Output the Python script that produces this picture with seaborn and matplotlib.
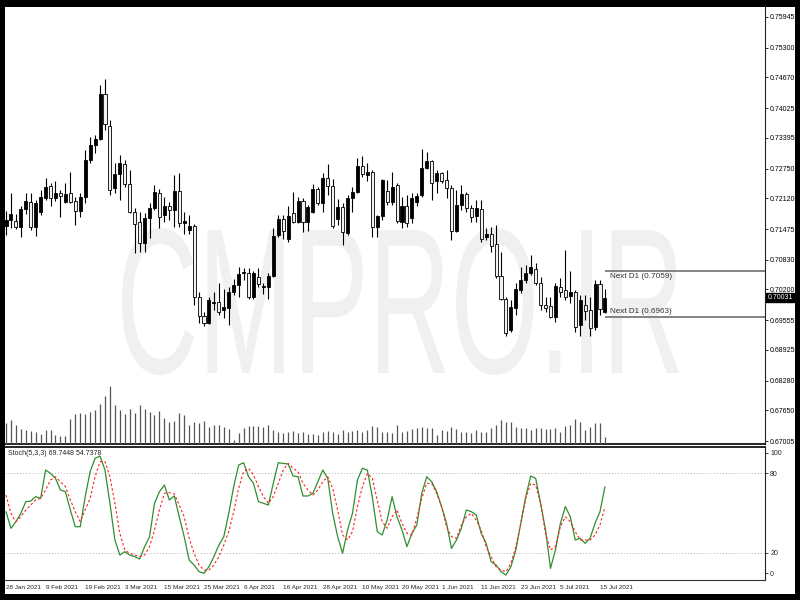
import numpy as np
import matplotlib
matplotlib.use("Agg")
import matplotlib.pyplot as plt
import seaborn as sns
from matplotlib.patches import Rectangle, PathPatch
from matplotlib.textpath import TextPath
from matplotlib.font_manager import FontProperties
from matplotlib.transforms import Affine2D, IdentityTransform

# daily candles, 28 Jan 2021 .. 16 Jul 2021
opens = [0.7154, 0.7166, 0.7164, 0.7152, 0.7189, 0.7205, 0.7152, 0.7184, 0.7212, 0.7238,
         0.7212, 0.7223, 0.7205, 0.7224, 0.7206, 0.7185, 0.7216, 0.7294, 0.7325, 0.7337,
         0.7432, 0.7365, 0.7235, 0.7263, 0.7285, 0.7242, 0.7184, 0.7163, 0.7117, 0.7170,
         0.7191, 0.7223, 0.7177, 0.7196, 0.7188, 0.7228, 0.7161, 0.7145, 0.7154, 0.7005,
         0.6965, 0.6949, 0.6991, 0.6994, 0.6977, 0.6980, 0.7015, 0.7029, 0.7054, 0.7055,
         0.7005, 0.7047, 0.7026, 0.7026, 0.7048, 0.7135, 0.7168, 0.7126, 0.7182, 0.7162,
         0.7207, 0.7162, 0.7183, 0.7232, 0.7203, 0.7256, 0.7239, 0.7169, 0.7193, 0.7140,
         0.7212, 0.7226, 0.7281, 0.7261, 0.7267, 0.7151, 0.7175, 0.7228, 0.7204, 0.7240,
         0.7163, 0.7195, 0.7170, 0.7204, 0.7219, 0.7277, 0.7291, 0.7249, 0.7265, 0.7251,
         0.7235, 0.7144, 0.7198, 0.7221, 0.7191, 0.7175, 0.7189, 0.7131, 0.7138, 0.7116,
         0.7048, 0.7000, 0.6935, 0.6982, 0.7019, 0.7040, 0.7054, 0.7063, 0.7033, 0.6987,
         0.6985, 0.6961, 0.7025, 0.7019, 0.7007, 0.7015, 0.6945, 0.6987, 0.6977, 0.6940,
         0.7031, 0.6973]
highs = [0.7185, 0.7223, 0.7180, 0.7195, 0.7224, 0.7223, 0.7209, 0.7230, 0.7254, 0.7244,
         0.7249, 0.7230, 0.7245, 0.7267, 0.7216, 0.7224, 0.7314, 0.7342, 0.7346, 0.7451,
         0.7463, 0.7377, 0.7286, 0.7303, 0.7293, 0.7272, 0.7191, 0.7184, 0.7181, 0.7202,
         0.7240, 0.7231, 0.7216, 0.7205, 0.7261, 0.7265, 0.7184, 0.7177, 0.7159, 0.7015,
         0.6973, 0.7005, 0.7015, 0.7033, 0.7022, 0.7026, 0.7043, 0.7067, 0.7066, 0.7066,
         0.7058, 0.7065, 0.7033, 0.7055, 0.7149, 0.7177, 0.7177, 0.7196, 0.7226, 0.7216,
         0.7212, 0.7198, 0.7242, 0.7237, 0.7265, 0.7285, 0.7252, 0.7210, 0.7202, 0.7219,
         0.7237, 0.7297, 0.7302, 0.7287, 0.7272, 0.7177, 0.7252, 0.7251, 0.7268, 0.7244,
         0.7216, 0.7219, 0.7223, 0.7223, 0.7316, 0.7309, 0.7294, 0.7272, 0.7268, 0.7271,
         0.7240, 0.7230, 0.7240, 0.7226, 0.7198, 0.7209, 0.7209, 0.7149, 0.7151, 0.7156,
         0.7100, 0.7005, 0.6998, 0.7033, 0.7068, 0.7072, 0.7093, 0.7075, 0.7047, 0.7005,
         0.7005, 0.7033, 0.7044, 0.7103, 0.7058, 0.7019, 0.7008, 0.7008, 0.7005, 0.7040,
         0.7041, 0.7022]
lows = [0.7135, 0.7149, 0.7147, 0.7131, 0.7180, 0.7145, 0.7133, 0.7177, 0.7209, 0.7196,
        0.7206, 0.7173, 0.7202, 0.7202, 0.7156, 0.7173, 0.7202, 0.7286, 0.7307, 0.7335,
        0.7356, 0.7219, 0.7223, 0.7209, 0.7237, 0.7181, 0.7096, 0.7100, 0.7100, 0.7128,
        0.7188, 0.7149, 0.7163, 0.7166, 0.7152, 0.7152, 0.7138, 0.7137, 0.6987, 0.6949,
        0.6942, 0.6947, 0.6977, 0.6966, 0.6959, 0.6945, 0.7008, 0.7005, 0.7040, 0.6999,
        0.6999, 0.7026, 0.7010, 0.6999, 0.7046, 0.7131, 0.7126, 0.7121, 0.7160, 0.7160,
        0.7142, 0.7144, 0.7181, 0.7198, 0.7184, 0.7219, 0.7149, 0.7156, 0.7114, 0.7135,
        0.7184, 0.7223, 0.7258, 0.7249, 0.7131, 0.7131, 0.7166, 0.7198, 0.7198, 0.7160,
        0.7149, 0.7152, 0.7160, 0.7195, 0.7216, 0.7275, 0.7209, 0.7223, 0.7244, 0.7212,
        0.7124, 0.7142, 0.7188, 0.7184, 0.7163, 0.7163, 0.7121, 0.7124, 0.7100, 0.7044,
        0.6998, 0.6921, 0.6931, 0.6966, 0.7012, 0.7033, 0.7051, 0.7029, 0.6977, 0.6973,
        0.6959, 0.6952, 0.7005, 0.6998, 0.6991, 0.6931, 0.6921, 0.6956, 0.6921, 0.6935,
        0.6966, 0.6970]
closes = [0.7166, 0.7179, 0.7152, 0.7189, 0.7206, 0.7152, 0.7202, 0.7216, 0.7237, 0.7212,
          0.7224, 0.7217, 0.7221, 0.7205, 0.7185, 0.7216, 0.7294, 0.7325, 0.7337, 0.7432,
          0.7369, 0.7230, 0.7263, 0.7287, 0.7242, 0.7184, 0.7159, 0.7117, 0.7170, 0.7192,
          0.7226, 0.7173, 0.7196, 0.7188, 0.7228, 0.7161, 0.7164, 0.7154, 0.7005, 0.6964,
          0.6950, 0.6998, 0.6994, 0.6973, 0.6984, 0.7015, 0.7029, 0.7053, 0.7057, 0.7005,
          0.7054, 0.7032, 0.7028, 0.7048, 0.7133, 0.7168, 0.7144, 0.7175, 0.7163, 0.7207,
          0.7163, 0.7193, 0.7232, 0.7203, 0.7256, 0.7239, 0.7154, 0.7193, 0.7141, 0.7212,
          0.7226, 0.7281, 0.7263, 0.7267, 0.7151, 0.7175, 0.7251, 0.7204, 0.7237, 0.7164,
          0.7197, 0.7161, 0.7212, 0.7218, 0.7277, 0.7291, 0.7244, 0.7265, 0.7249, 0.7235,
          0.7144, 0.7198, 0.7221, 0.7191, 0.7173, 0.7191, 0.7126, 0.7138, 0.7112, 0.7048,
          0.7000, 0.6928, 0.6984, 0.7020, 0.7040, 0.7054, 0.7067, 0.7033, 0.6987, 0.6980,
          0.6963, 0.7027, 0.7015, 0.7005, 0.7015, 0.6941, 0.6998, 0.6975, 0.6938, 0.7031,
          0.6978, 0.7003]
volumes = [63, 72, 58, 44, 42, 39, 37, 31, 42, 42,
           27, 25, 23, 75, 89, 92, 90, 97, 102, 120,
           145, 175, 117, 102, 90, 105, 94, 117, 105, 95,
           87, 100, 77, 65, 70, 92, 86, 57, 65, 62,
           70, 51, 56, 56, 52, 45, 12, 32, 47, 55,
           54, 54, 50, 56, 42, 37, 32, 37, 40, 32,
           37, 30, 30, 28, 37, 40, 35, 30, 42, 35,
           40, 42, 37, 42, 53, 50, 37, 35, 34, 57,
           37, 40, 45, 48, 50, 47, 48, 28, 42, 40,
           50, 45, 35, 35, 34, 42, 37, 37, 47, 58,
           72, 67, 65, 50, 48, 48, 42, 48, 47, 45,
           45, 47, 35, 55, 58, 75, 65, 42, 50, 62,
           62, 20]
stoch_k = [51.0, 38.5, 43.5, 49.7, 58.5, 59.0, 62.3, 61.0, 82.3, 79.8,
           76.1, 67.3, 66.0, 52.3, 39.7, 39.7, 62.3, 81.1, 91.1, 92.8,
           82.3, 57.3, 29.7, 18.4, 20.9, 18.4, 17.2, 15.4, 24.7, 32.2,
           57.3, 66.0, 71.0, 59.8, 62.8, 47.2, 32.2, 14.7, 10.9, 5.9,
           4.6, 9.6, 17.2, 25.9, 32.2, 49.7, 69.8, 86.1, 87.8, 77.3,
           72.3, 58.5, 57.3, 56.0, 72.3, 87.8, 87.3, 86.8, 77.8, 77.3,
           62.8, 62.8, 64.8, 73.5, 82.3, 76.1, 49.7, 32.2, 19.7, 37.2,
           49.7, 74.8, 83.6, 82.3, 62.3, 36.0, 33.5, 44.7, 62.3, 47.2,
           37.2, 24.7, 34.7, 41.0, 64.8, 77.3, 73.5, 66.0, 54.8, 42.2,
           23.4, 29.7, 38.5, 52.3, 51.0, 48.5, 34.7, 27.2, 13.4, 10.9,
           5.9, 3.4, 9.6, 22.2, 42.2, 62.3, 77.8, 76.1, 57.3, 37.2,
           8.4, 22.2, 42.2, 54.8, 47.2, 29.7, 31.0, 27.2, 31.0, 42.2,
           51.0, 69.7]
stoch_d = [63.5, 49.7, 43.5, 47.2, 52.3, 56.0, 59.8, 61.0, 67.3, 74.8,
           77.3, 73.5, 69.8, 59.8, 51.0, 43.5, 52.3, 61.0, 77.3, 88.6,
           88.6, 77.3, 57.3, 34.7, 22.2, 19.7, 18.4, 17.2, 18.4, 24.7,
           37.2, 52.3, 64.8, 65.3, 64.3, 56.0, 47.2, 31.0, 19.7, 10.9,
           7.1, 7.1, 10.9, 17.2, 25.9, 36.0, 51.0, 68.5, 81.1, 83.6,
           78.6, 69.8, 62.3, 57.3, 62.3, 72.3, 82.3, 87.3, 83.6, 81.1,
           72.3, 67.3, 63.5, 67.3, 73.5, 77.3, 68.5, 52.3, 33.5, 29.7,
           36.0, 54.8, 69.8, 79.8, 76.1, 59.8, 43.5, 38.5, 47.2, 52.3,
           42.2, 34.7, 33.5, 46.0, 61.0, 72.3, 72.3, 64.8, 54.8, 39.7,
           32.2, 31.0, 41.0, 47.2, 49.7, 44.7, 37.2, 24.7, 17.2, 9.6,
           7.1, 5.9, 12.2, 24.7, 42.2, 61.0, 72.3, 71.0, 57.3, 34.7,
           22.2, 24.7, 39.7, 47.2, 43.5, 36.0, 29.7, 29.7, 29.7, 33.5,
           41.0, 54.7]
date_pos = [0, 8, 16, 24, 32, 40, 48, 56, 64, 72, 80, 88, 96, 104, 112, 120]
date_labels = ['28 Jan 2021', '9 Feb 2021', '19 Feb 2021', '3 Mar 2021', '15 Mar 2021',
               '25 Mar 2021', '6 Apr 2021', '16 Apr 2021', '28 Apr 2021', '10 May 2021',
               '20 May 2021', '1 Jun 2021', '11 Jun 2021', '23 Jun 2021', '5 Jul 2021',
               '15 Jul 2021']
price_ticks = [0.75945, 0.75300, 0.74670, 0.74025, 0.73395, 0.72750, 0.72120, 0.71475,
               0.70830, 0.70200, 0.69555, 0.68925, 0.68280, 0.67650, 0.67005]
next_d1 = [0.7059, 0.6963]
last_price = 0.70031
stoch_levels = [80, 20]

sns.set_style('white')
plt.rcParams['font.family'] = ['Liberation Sans', 'DejaVu Sans']

W, H = 800, 600
fig = plt.figure(figsize=(8, 6), dpi=100, facecolor='black')
fig.patches.append(Rectangle((5 / W, 6 / H), 790 / W, 587 / H, transform=fig.transFigure,
                             facecolor='white', edgecolor='none', zorder=-5))

rect_main = [5 / W, (H - 444) / H, 760 / W, 437 / H]
ax = fig.add_axes(rect_main)
axv = fig.add_axes(rect_main, sharex=ax)
ax2 = fig.add_axes([5 / W, (H - 579.5) / H, 760 / W, 133 / H], sharex=ax)

n = len(opens)
idx = np.arange(n)
o = np.array(opens)
c = np.array(closes)
bull = c >= o

ax.set_xlim(-0.2, -0.2 + 760 / 4.95)
ax.set_ylim(0.66943, 0.76155)

# watermark
tp = TextPath((0, 0), 'CMPRO.IR', size=100, prop=FontProperties(family='Liberation Sans'))
bb = tp.get_extents()
x0, x1, ytop, ybot = 122, 679, 228, 375
wm = Affine2D().translate(-bb.x0, -bb.y0).scale((x1 - x0) / bb.width, (ybot - ytop) / bb.height) \
    .translate(x0, H - ybot)
ax.add_artist(PathPatch(wm.transform_path(tp), facecolor='#f0f0f0', edgecolor='none',
                        transform=IdentityTransform(), zorder=0.5))

# candles: black = up, white = down
ax.vlines(idx, lows, highs, color='black', linewidth=0.8, zorder=2)
ax.bar(idx[bull], (c - o)[bull], bottom=o[bull], width=0.62, color='black',
       edgecolor='black', linewidth=0.6, zorder=3)
ax.bar(idx[~bull], (o - c)[~bull], bottom=c[~bull], width=0.62, color='#f7f0f0',
       edgecolor='black', linewidth=0.6, zorder=3)

# next D1 levels
xr = ax.get_xlim()[1]
ax.hlines(next_d1, n - 1, xr, color='#7a7a7a', linewidth=1.3, zorder=2)
ax.annotate(f'Next D1 ({next_d1[0]:.4f})', xy=(n, next_d1[0]), xytext=(0, -1.5),
            textcoords='offset points', va='top', ha='left', fontsize=5.9, color='#333333')
ax.annotate(f'Next D1 ({next_d1[1]:.4f})', xy=(n, next_d1[1]), xytext=(0, 1.2),
            textcoords='offset points', va='bottom', ha='left', fontsize=5.9, color='#333333')

ax.yaxis.tick_right()
ax.set_yticks(price_ticks)
ax.set_yticklabels([f'{p:.5f}' for p in price_ticks])
ax.tick_params(axis='y', direction='out', length=2.5, width=0.6, labelsize=5.0, pad=1.2,
               colors='black')
ax.tick_params(axis='x', bottom=False, labelbottom=False)
ax.text(1.003, last_price, f'{last_price:.5f}', transform=ax.get_yaxis_transform(),
        ha='left', va='center', fontsize=5.0, color='white',
        bbox=dict(boxstyle='square,pad=0.15', facecolor='black', edgecolor='black'))
for side in ['left', 'top']:
    ax.spines[side].set_visible(False)
ax.spines['bottom'].set_color('black')
ax.spines['bottom'].set_linewidth(1.2)
ax.spines['right'].set_color('#222222')
ax.spines['right'].set_linewidth(0.8)

# tick volume in the bottom of the price pane
axv.set_ylim(0, 437 * 3)
axv.vlines(idx, 0, volumes, color='#555555', linewidth=0.9)
axv.set_axis_off()
axv.patch.set_visible(False)

# stochastic pane
sns.lineplot(x=idx, y=stoch_k, ax=ax2, color='#2f8f2f', linewidth=0.9)
sns.lineplot(x=idx, y=stoch_d, ax=ax2, color='#ff2020', linewidth=0.8, linestyle=(0, (2.2, 2.0)))
ax2.hlines(stoch_levels, ax.get_xlim()[0], xr, color='#b5b5b5', linewidth=0.7,
           linestyles=(0, (1, 2)), zorder=0)
ax2.set_ylim(0, 100)
ax2.yaxis.tick_right()
ax2.set_yticks([95.3, 80, 20, 4.7])
ax2.set_yticklabels(['100', '80', '20', '0'])
ax2.tick_params(axis='y', direction='out', length=2.5, width=0.6, labelsize=5.0, pad=1.2)
ax2.set_xticks(date_pos)
ax2.set_xticklabels(date_labels, ha='left')
ax2.tick_params(axis='x', direction='out', length=3, width=0.6, labelsize=4.6, pad=0.8)
ax2.set_xlabel('')
ax2.set_ylabel('')
ax2.text(0.004, 0.975, 'Stoch(5,3,3) 69.7448 54.7378', transform=ax2.transAxes,
         va='top', ha='left', fontsize=5.0, color='#222222')
ax2.spines['left'].set_visible(False)
ax2.spines['top'].set_color('black')
ax2.spines['top'].set_linewidth(1.2)
ax2.spines['bottom'].set_color('#333333')
ax2.spines['right'].set_color('#222222')
ax2.spines['right'].set_linewidth(0.8)
ax2.set_xlim(-0.2, -0.2 + 760 / 4.95)

fig.savefig('out.png', dpi=100, facecolor=fig.get_facecolor())
